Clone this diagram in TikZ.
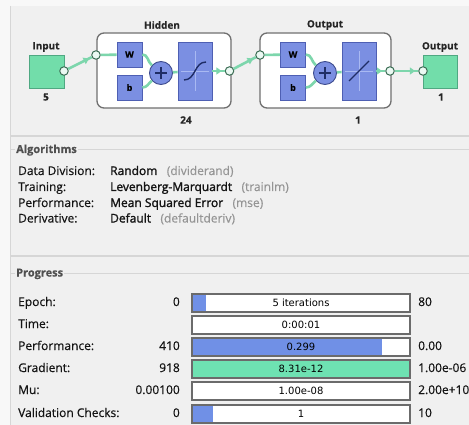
\documentclass[tikz,border=0pt]{standalone}
\usepackage{fontspec}
\setmainfont{Open Sans}[FakeBold=0.4]
\newfontfamily\semib{Open Sans}[FakeBold=1.6]
\newfontfamily\barfont{DejaVu Sans}
\usetikzlibrary{arrows.meta,decorations.markings,calc,positioning}
\definecolor{outerbg}{HTML}{F8F8F8}
\definecolor{panelbg}{HTML}{F0F0F0}
\definecolor{sepc}{HTML}{D6D6D6}
\definecolor{wirec}{HTML}{7DD6AC}
\definecolor{greenfill}{HTML}{72DDAA}
\definecolor{greendraw}{HTML}{4FA882}
\definecolor{bluefill}{HTML}{7B8FE2}
\definecolor{bluedraw}{HTML}{4E5FB3}
\definecolor{boxdraw}{HTML}{707070}
\definecolor{circdraw}{HTML}{3C6E55}
\definecolor{labelgray}{HTML}{505050}
\definecolor{parengray}{HTML}{959595}
\definecolor{txtc}{HTML}{141414}
\definecolor{bardraw}{HTML}{6B6B6B}
\definecolor{barblue}{HTML}{7090E6}
\definecolor{bargreen}{HTML}{6EE2B2}
\definecolor{crossc}{HTML}{A9B9F2}
\definecolor{curvec}{HTML}{1F2D66}
\tikzset{
  txt/.style={font=\fontsize{12}{14}\selectfont, text=txtc, inner sep=0pt, text height=8.5pt, text depth=2.5pt},
  val/.style={txt, font=\fontsize{12}{14}\selectfont\semib},
  paren/.style={txt, text=parengray},
  heading/.style={font=\fontsize{11}{13}\selectfont\bfseries, text=labelgray, fill=panelbg, inner xsep=1pt, inner ysep=0pt, anchor=west, text height=8.5pt, text depth=2.5pt},
  netlbl/.style={font=\fontsize{10}{12}\selectfont\bfseries, text=black!85, inner sep=0pt},
  sqnode/.style={draw=greendraw, fill=greenfill, line width=0.8pt, minimum width=35pt, minimum height=33pt, inner sep=0pt},
  layerbox/.style={draw=boxdraw, line width=1.3pt, rounded corners=7pt, fill=white, minimum height=75pt, inner sep=0pt},
  wbox/.style={draw=bluedraw, fill=bluefill, line width=0.8pt, minimum size=25pt, inner sep=0pt, font=\fontsize{9}{10}\selectfont\bfseries},
  tfbox/.style={draw=bluedraw, fill=bluefill, line width=0.8pt, minimum width=34pt, minimum height=58pt, inner sep=0pt},
  plusc/.style={circle, draw=bluedraw!80!black, fill=bluefill, line width=0.9pt, minimum size=23pt, inner sep=0pt},
  circ/.style={circle, draw=circdraw, fill=white!85!wirec, line width=1pt, minimum size=8.5pt, inner sep=0pt},
  wire/.style={color=wirec, line width=2.6pt},
  arrowat/.style={postaction={decorate}, decoration={markings, mark=at position #1 with {\arrow{Triangle[length=5.5pt,width=7pt]}}}},
  bar/.style={draw=bardraw, line width=1.2pt, fill=white, minimum width=218pt, minimum height=18pt, inner sep=0pt, font=\barfont\fontsize{10}{12}\selectfont, text=black},
  prog/.style 2 args={path picture={\fill[#1] ([xshift=1.2pt,yshift=-1.2pt]path picture bounding box.north west) rectangle ([xshift=#2,yshift=1.2pt]path picture bounding box.south west);}},
}
\begin{document}
\begin{tikzpicture}[x=1pt,y=-1pt]
\useasboundingbox (0,0) rectangle (469,425);
\clip (0,0) rectangle (469,425);
\fill[outerbg] (0,0) rectangle (469,425);
\fill[panelbg] (10,6) rectangle (469,425);
\draw[sepc, line width=1pt] (10.5,6) -- (10.5,425);
\draw[sepc, line width=1.5pt] (10,136) -- (469,136);
\draw[sepc, line width=1pt] (10,149.5) -- (469,149.5);
\draw[sepc, line width=1.5pt] (10,256) -- (469,256);
\draw[sepc, line width=1pt] (10,273) -- (469,273);

% ---------- network ----------
\node[sqnode] (inp) at (46.5,71.5) {};
\node[netlbl] (inpL) at (46,47) {Input};
\node[netlbl] (inpN) at (46,97) {5};

\node[layerbox, minimum width=134pt] (hid) at (164,70.5) {};
\node[netlbl] (hidL) at (162,25) {Hidden};
\node[netlbl] (hidN) at (186,120) {24};
\node[wbox] (W1) at (129.5,54.5) {W};
\node[wbox] (b1) at (129.5,87.5) {b};
\node[plusc] (p1) at (161,73) {};
\node[tfbox] (f1) at (195,71) {};

\node[layerbox, minimum width=131pt] (outl) at (325.5,70.5) {};
\node[netlbl] (outlL) at (325,25) {Output};
\node[netlbl] (outlN) at (358,120) {1};
\node[wbox] (W2) at (293,54.5) {W};
\node[wbox] (b2) at (293,87.5) {b};
\node[plusc] (p2) at (325,73) {};
\node[tfbox] (f2) at (359,71) {};

\node[sqnode, minimum width=34pt] (osq) at (440,71.5) {};
\node[netlbl] (osqL) at (440,47) {Output};
\node[netlbl] (osqN) at (441,97) {1};

\node[circ] (c1) at (64,71) {};
\node[circ] (c2) at (96,55) {};
\node[circ] (c3) at (229.5,71) {};
\node[circ] (c4) at (260,55) {};
\node[circ] (c5) at (390,71) {};
\node[circ] (c6) at (423,71) {};

% transfer function glyphs
\begin{scope}[shift={(f1.center)}]
  \draw[crossc, line width=0.8pt] (-14,0) -- (14,0) (0,-20) -- (0,20);
  \draw[curvec, line width=1.4pt] (-11,9) .. controls (1,9) and (-1,-9) .. (11,-9);
\end{scope}
\begin{scope}[shift={(f2.center)}]
  \draw[crossc, line width=0.8pt] (-14,0) -- (14,0) (0,-20) -- (0,20);
  \draw[curvec, line width=1.4pt] (-10,10) -- (10,-10);
\end{scope}
\foreach \p in {p1,p2}{
  \begin{scope}[shift={(\p.center)}]
    \draw[curvec, line width=1.5pt] (-6,0) -- (6,0) (0,-6) -- (0,6);
  \end{scope}
}

% wires
\draw[wire, arrowat=-3pt] (c1) -- (c2);
\draw[wire] (c2) -- (W1);
\draw[wire] (W1.east) to[out=0,in=140] (p1);
\draw[wire] (b1.east) to[out=0,in=-140] (p1);
\draw[wire] (p1) -- (f1);
\draw[wire, arrowat=-3pt] (f1) -- (c3);
\draw[wire, arrowat=-3pt] (c3) -- (c4);
\draw[wire] (c4) -- (W2);
\draw[wire] (W2.east) to[out=0,in=140] (p2);
\draw[wire] (b2.east) to[out=0,in=-140] (p2);
\draw[wire] (p2) -- (f2);
\draw[wire, arrowat=-3pt] (f2) -- (c5);
\draw[wire, arrowat=-3pt] (c5) -- (c6);

% ---------- Algorithms ----------
\node[heading] (alg) at (15,150) {Algorithms};
\node[txt, anchor=west] (a1l) at (18,172) {Data Division:};
\node[val, anchor=west] (a1v) at (110,172) {Random};
\node[paren, right=9pt of a1v] (a1p) {(dividerand)};
\node[txt, anchor=west] (a2l) at (18,188) {Training:};
\node[val, anchor=west] (a2v) at (110,188) {Levenberg-Marquardt};
\node[paren, right=9pt of a2v] (a2p) {(trainlm)};
\node[txt, anchor=west] (a3l) at (18,204) {Performance:};
\node[val, anchor=west] (a3v) at (110,204) {Mean Squared Error};
\node[paren, right=9pt of a3v] (a3p) {(mse)};
\node[txt, anchor=west] (a4l) at (18,219.5) {Derivative:};
\node[val, anchor=west] (a4v) at (110,219.5) {Default};
\node[paren, right=9pt of a4v] (a4p) {(defaultderiv)};

% ---------- Progress ----------
\node[heading] (prg) at (15,273.5) {Progress};

\node[txt, anchor=west] (r1l) at (18,303) {Epoch:};
\node[txt, anchor=east] (r1v) at (180,303) {0};
\node[bar, prog={barblue}{14pt}] (r1b) at (301,303) {5 iterations};
\node[txt, anchor=west] (r1m) at (418,303) {80};

\node[txt, anchor=west] (r2l) at (18,325) {Time:};
\node[bar] (r2b) at (301,325) {0:00:01};

\node[txt, anchor=west] (r3l) at (18,347) {Performance:};
\node[txt, anchor=east] (r3v) at (180,347) {410};
\node[bar, prog={barblue}{190pt}] (r3b) at (301,347) {0.299};
\node[txt, anchor=west] (r3m) at (418,347) {0.00};

\node[txt, anchor=west] (r4l) at (18,369) {Gradient:};
\node[txt, anchor=east] (r4v) at (180,369) {918};
\node[bar, fill=bargreen] (r4b) at (301,369) {8.31e-12};
\node[txt, anchor=west] (r4m) at (418,369) {1.00e-06};

\node[txt, anchor=west] (r5l) at (18,391) {Mu:};
\node[txt, anchor=east] (r5v) at (180,391) {0.00100};
\node[bar] (r5b) at (301,391) {1.00e-08};
\node[txt, anchor=west] (r5m) at (418,391) {2.00e+10};

\node[txt, anchor=west] (r6l) at (18,414) {Validation Checks:};
\node[txt, anchor=east] (r6v) at (180,414) {0};
\node[bar, prog={barblue}{21pt}] (r6b) at (301,414) {1};
\node[txt, anchor=west] (r6m) at (418,414) {10};
\end{tikzpicture}
\end{document}
